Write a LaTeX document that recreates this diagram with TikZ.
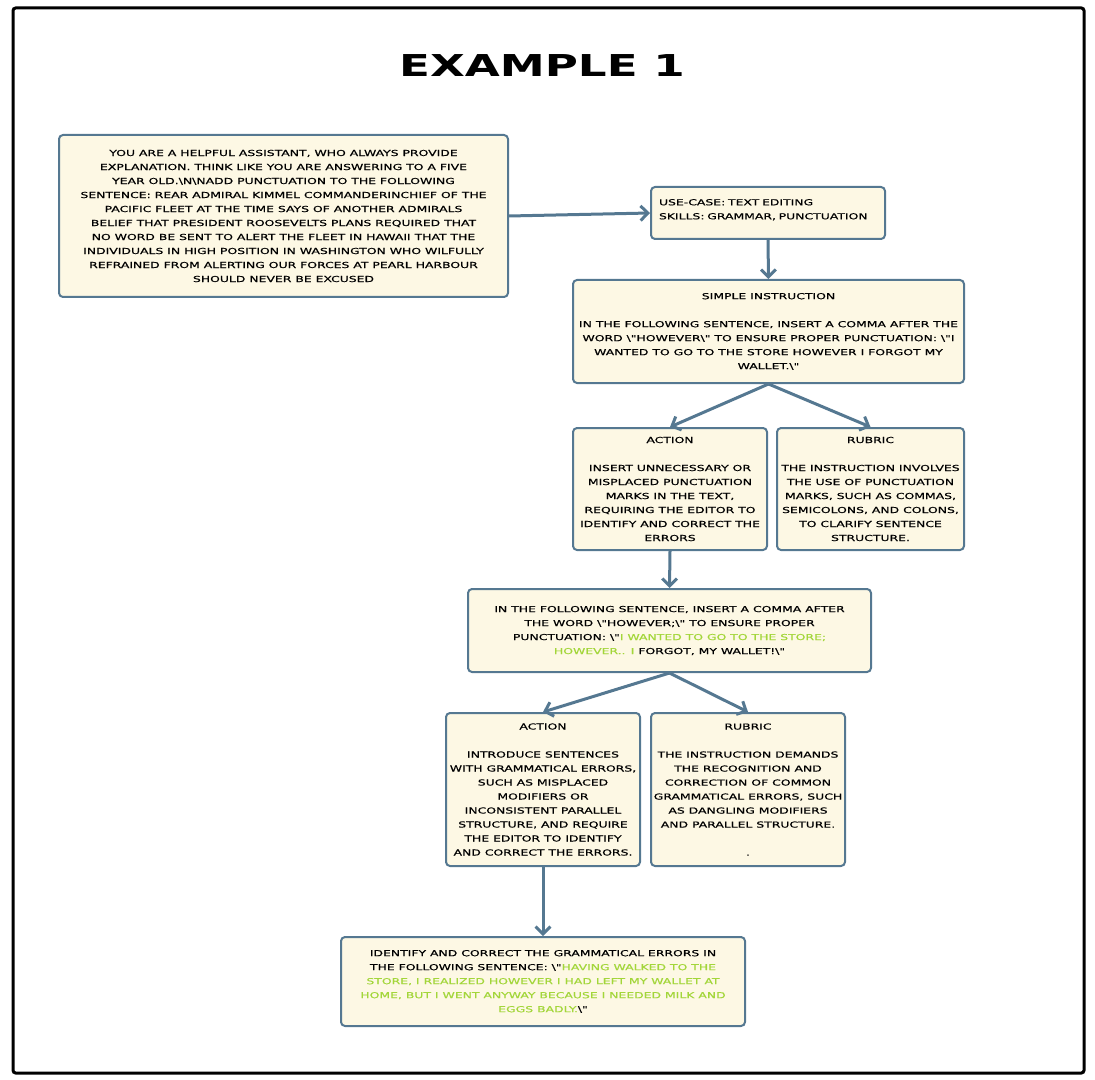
\documentclass[tikz,border=0pt]{standalone}
\usepackage{fontspec}
\usepackage{xcolor}
\usepackage{tikz}
\usetikzlibrary{arrows.meta}
\newfontfamily\pixfont[FakeStretch=1.5,FakeBold=0.6]{DejaVu Sans}
\newfontfamily\titlefont[FakeStretch=1.5]{DejaVu Sans}
\definecolor{boxline}{RGB}{85,120,145}
\definecolor{boxfill}{RGB}{253,248,228}
\definecolor{hl}{RGB}{163,214,58}

\begin{document}
\begin{tikzpicture}[x=0.75pt,y=-0.75pt,
      box/.style={draw=boxline,fill=boxfill,line width=1.5pt,rounded corners=3pt,
        inner sep=0pt,align=center,
        font=\pixfont\fontsize{6.2pt}{10.5pt}\selectfont},
      link/.style={draw=boxline,line width=2.25pt,
        -{Straight Barb[length=5.5pt,width=11pt,line width=2.25pt]}}]

      \useasboundingbox (0,0) rectangle (1095,1080);
      \draw[line width=2.25pt,rounded corners=2pt] (13,8) rectangle (1084,1073);

      \node[font=\titlefont\bfseries\fontsize{22.6pt}{26pt}\selectfont] (title) at (542,66) {EXAMPLE 1};

      \node[box,minimum width=336.75pt,minimum height=121.5pt] (prompt) at (283.5,216)
        {YOU ARE A HELPFUL ASSISTANT, WHO ALWAYS PROVIDE\\
         EXPLANATION. THINK LIKE YOU ARE ANSWERING TO A FIVE\\
         YEAR OLD.\textbackslash N\textbackslash NADD PUNCTUATION TO THE FOLLOWING\\
         SENTENCE: REAR ADMIRAL KIMMEL COMMANDERINCHIEF OF THE\\
         PACIFIC FLEET AT THE TIME SAYS OF ANOTHER ADMIRALS\\
         BELIEF THAT PRESIDENT ROOSEVELTS PLANS REQUIRED THAT\\
         NO WORD BE SENT TO ALERT THE FLEET IN HAWAII THAT THE\\
         INDIVIDUALS IN HIGH POSITION IN WASHINGTON WHO WILFULLY\\
         REFRAINED FROM ALERTING OUR FORCES AT PEARL HARBOUR\\
         SHOULD NEVER BE EXCUSED};

      \node[box,align=left,inner xsep=6pt,text width=163.5pt,minimum height=39pt] (usecase) at (768,213)
        {USE-CASE: TEXT EDITING\\
         SKILLS: GRAMMAR, PUNCTUATION\\[-8pt]
         \strut};

      \node[box,minimum width=293.25pt,minimum height=77.25pt] (simple) at (768.5,331.5)
        {SIMPLE INSTRUCTION\\[10.5pt]
         IN THE FOLLOWING SENTENCE, INSERT A COMMA AFTER THE\\
         WORD \textbackslash"HOWEVER\textbackslash" TO ENSURE PROPER PUNCTUATION: \textbackslash"I\\
         WANTED TO GO TO THE STORE HOWEVER I FORGOT MY\\
         WALLET.\textbackslash"};

      \node[box,minimum width=145.5pt,minimum height=91.5pt] (action1) at (670,489)
        {ACTION\\[10.5pt]
         INSERT UNNECESSARY OR\\
         MISPLACED PUNCTUATION\\
         MARKS IN THE TEXT,\\
         REQUIRING THE EDITOR TO\\
         IDENTIFY AND CORRECT THE\\
         ERRORS};

      \node[box,minimum width=140.25pt,minimum height=91.5pt] (rubric1) at (870.5,489)
        {RUBRIC\\[10.5pt]
         THE INSTRUCTION INVOLVES\\
         THE USE OF PUNCTUATION\\
         MARKS, SUCH AS COMMAS,\\
         SEMICOLONS, AND COLONS,\\
         TO CLARIFY SENTENCE\\
         STRUCTURE.};

      \node[box,minimum width=302.25pt,minimum height=62.25pt] (revised) at (669.5,630.5)
        {IN THE FOLLOWING SENTENCE, INSERT A COMMA AFTER\\
         THE WORD \textbackslash"HOWEVER;\textbackslash" TO ENSURE PROPER\\
         PUNCTUATION: \textbackslash"{\color{hl}I WANTED TO GO TO THE STORE;}\\
         {\color{hl}HOWEVER.. I} FORGOT, MY WALLET!\textbackslash"};

      \node[box,minimum width=145.5pt,minimum height=114.75pt] (action2) at (543,789.5)
        {ACTION\\[10.5pt]
         INTRODUCE SENTENCES\\
         WITH GRAMMATICAL ERRORS,\\
         SUCH AS MISPLACED\\
         MODIFIERS OR\\
         INCONSISTENT PARALLEL\\
         STRUCTURE, AND REQUIRE\\
         THE EDITOR TO IDENTIFY\\
         AND CORRECT THE ERRORS.};

      \node[box,minimum width=145.5pt,minimum height=114.75pt] (rubric2) at (748,789.5)
        {RUBRIC\\[10.5pt]
         THE INSTRUCTION DEMANDS\\
         THE RECOGNITION AND\\
         CORRECTION OF COMMON\\
         GRAMMATICAL ERRORS, SUCH\\
         AS DANGLING MODIFIERS\\
         AND PARALLEL STRUCTURE.\\[10.5pt]
         .};

      \node[box,minimum width=303pt,minimum height=66.75pt] (final) at (543,981.5)
        {IDENTIFY AND CORRECT THE GRAMMATICAL ERRORS IN\\
         THE FOLLOWING SENTENCE: \textbackslash"{\color{hl}HAVING WALKED TO THE}\\
         {\color{hl}STORE, I REALIZED HOWEVER I HAD LEFT MY WALLET AT}\\
         {\color{hl}HOME, BUT I WENT ANYWAY BECAUSE I NEEDED MILK AND}\\
         {\color{hl}EGGS BADLY.}\textbackslash"};

      \draw[link] (prompt.east) -- (usecase.west);
      \draw[link] (usecase.south) -- (simple.north);
      \draw[link] (simple.south) -- (action1.north);
      \draw[link] (simple.south) -- (rubric1.north);
      \draw[link] (action1.south) -- (revised.north);
      \draw[link] (revised.south) -- (action2.north);
      \draw[link] (revised.south) -- (rubric2.north);
      \draw[link] (action2.south) -- (final.north);
\end{tikzpicture}
\end{document}
